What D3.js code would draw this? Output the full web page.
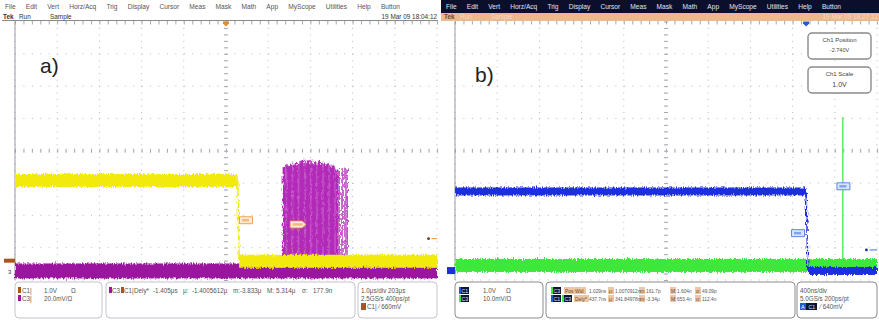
<!DOCTYPE html>
<html>
<head>
<meta charset="utf-8">
<script src="https://cdn.jsdelivr.net/npm/d3@7"></script>
<style>
html, body { margin: 0; padding: 0; background: #fff; }
svg { display: block; font-family: "Liberation Sans", Arial, sans-serif; }
</style>
</head>
<body>
<svg id="scope" width="879" height="320"></svg>
<script>
/* ---- data ---- */
const menuItems = ['File', 'Edit', 'Vert', 'Horz/Acq', 'Trig', 'Display', 'Cursor', 'Meas', 'Mask', 'Math', 'App', 'MyScope', 'Utilities', 'Help', 'Button'];
const statusItems = ['Tek', 'Run', 'Sample'];
const dates = ['19 Mar 09 18:04:12', '19 Mar 09 18:27:12'];
const panelLabels = ['a)', 'b)'];

// a) 1.0us/div, levels in vertical divisions
const c1TimesA = [-5, 0.28, 0.31, 5];
const c1LevelsA = [-0.92, -0.92, -3.42, -3.42];
const c3TimesA = [-5, 5];
const c3LevelsA = [-3.72, -3.72];
const burstTopsA = [-0.50, -0.45, -0.42, -0.48, -0.44, -0.40, -0.46, -0.43, -0.38, -0.45, -0.41, -0.35,
                    -0.30, -0.44, -0.25, -0.40, -0.33, -0.43, -0.28, -0.38, -0.42, -0.36, -0.44, -0.31,
                    -0.40, -0.45, -0.37, -0.42, -0.47, -0.39, -0.44, -0.50, -0.46, -0.52, -0.55, -0.60];
const burstSpanA = [1.37, 2.63];
const burstTailA = [2.68, 2.75, 2.82, 2.87];
const burstBaseA = -3.26;

// b) 400ns/div (time in us)
const c1TimesB = [-2, 1.328, 1.345, 2];
const c1LevelsB = [-1.26, -1.26, -3.72, -3.72];
const c3TimesB = [-2, 2];
const c3LevelsB = [-3.55, -3.55];
const spikeTimeB = 1.676;
const spikeTopB = 1.04;

// readouts
const chanA = [['C1|', '1.0V', 'Ω'], ['C3|', '20.0mV/Ω', '']];
const measA = ['Dely*', '-1.405μs', 'μ:', '-1.4005612μ', 'm:-3.833μ', 'M:', '5.314μ', 'σ:', '177.9n'];
const horizA = ['1.0μs/div  203μs', '2.5GS/s    400ps/pt', 'C1| ⁄ 660mV'];
const chanB = [['C1', '1.0V', 'Ω'], ['C3', '10.0mV/Ω', '']];
const measNamesB = ['Pos Wid', 'Dely*'];
const measValsB = [['1.029ns', '1.0070912n', '161.7p', '1.604n', '49.09p'],
                   ['437.7ns', '341.84978n', '-3.34μ', '653.4n', '112.4n']];
const statKeys = ['μ:', 'm:', 'M:', 'σ:'];
const horizB = ['400ns/div', '5.0GS/s    200ps/pt', '⁄ 640mV'];
const infoBoxesB = [['Ch1 Position', '-2.740V'], ['Ch1 Scale', '1.0V']];

/* ---- setup ---- */
const svg = d3.select('#scope');
const defs = svg.append('defs');

const noise = defs.append('filter').attr('id', 'noise')
    .attr('filterUnits', 'userSpaceOnUse').attr('x', 0).attr('y', 0).attr('width', 879).attr('height', 320);
noise.append('feTurbulence').attr('type', 'fractalNoise').attr('baseFrequency', '0.9 0.25')
    .attr('numOctaves', 2).attr('seed', 4).attr('result', 't');
noise.append('feDisplacementMap').attr('in', 'SourceGraphic').attr('in2', 't')
    .attr('scale', 5).attr('xChannelSelector', 'R').attr('yChannelSelector', 'G');

const gridTop = 21.5, gridBottom = 280;
const panels = [
    { off: 0,   gx0: 15,  gx1: 437, dark: false, x: d3.scaleLinear().domain([-5, 5]).range([15, 437]) },
    { off: 441, gx0: 455, gx1: 877, dark: true,  x: d3.scaleLinear().domain([-2, 2]).range([455, 877]) }
];
const yDiv = d3.scaleLinear().domain([-4, 4]).range([gridBottom, gridTop]);

panels.forEach((p, i) => {
    const g = svg.append('g').attr('class', 'panel-' + i);

    // menu + status bars
    g.append('rect').attr('x', p.off).attr('y', 0).attr('width', 438).attr('height', 13)
        .style('fill', p.dark ? '#0b0f2c' : '#fff');
    g.append('rect').attr('x', p.off).attr('y', 13).attr('width', 438).attr('height', 8)
        .style('fill', p.dark ? '#ecb88c' : '#fff');
    if (!p.dark) {
        g.append('line').attr('x1', p.off + 2).attr('x2', p.off + 438).attr('y1', 20.5).attr('y2', 20.5)
            .style('stroke', '#8a8a8a').style('stroke-width', 1);
    }
    const menu = g.append('g').style('font-size', '6.6px').style('fill', p.dark ? '#e4e4ee' : '#555');
    const items = menu.selectAll('text').data(menuItems).enter().append('text')
        .attr('y', 9).text(d => d);
    const widths = [];
    items.each(function () { widths.push(this.getComputedTextLength()); });
    const gap = (395 - d3.sum(widths)) / (menuItems.length - 1);
    let cx = p.off + 5;
    items.attr('x', (d, k) => { const v = cx; cx += widths[k] + gap; return v; });

    const st = g.append('g').style('font-size', '6.4px');
    st.selectAll('text').data(statusItems).enter().append('text')
        .attr('x', (d, k) => p.off + [3, 19, 50][k]).attr('y', 19)
        .style('font-weight', (d, k) => k === 0 ? 'bold' : 'normal')
        .style('fill', (d, k) => p.dark ? (k === 0 ? '#6a4a30' : '#f6dcc6') : '#333')
        .text(d => d);
    st.append('text').attr('x', p.off + 437).attr('y', 19).attr('text-anchor', 'end')
        .style('fill', p.dark ? '#f6dcc6' : '#333').text(dates[i]);

    // graticule
    const grid = g.append('g').attr('class', 'grid');
    const xs = d3.range(-5, 5.001, 1).map(v => p.gx0 + (v + 5) * (p.gx1 - p.gx0) / 10);
    const ys = d3.range(-4, 4.001, 1).map(v => yDiv(v));
    const subX = (p.gx1 - p.gx0) / 50, subY = (gridBottom - gridTop) / 40;
    grid.selectAll('.vl').data(xs).enter().append('line').attr('class', 'vl')
        .attr('x1', d => d).attr('x2', d => d).attr('y1', gridTop).attr('y2', gridBottom)
        .style('stroke', '#b8b8c0').style('stroke-width', 1)
        .style('stroke-dasharray', '1,' + (subY - 1).toFixed(2));
    grid.selectAll('.hl').data(ys).enter().append('line').attr('class', 'hl')
        .attr('y1', d => d).attr('y2', d => d).attr('x1', p.gx0).attr('x2', p.gx1)
        .style('stroke', '#b8b8c0').style('stroke-width', 1)
        .style('stroke-dasharray', '1,' + (subX - 1).toFixed(2));
    // center cross and edges with minor ticks
    const xTickScale = d3.scaleLinear().domain([-5, 5]).range([p.gx0, p.gx1]);
    const tickX = d3.range(-5, 5.001, 0.2);
    const tickY = d3.range(-4, 4.001, 0.2);
    grid.append('g').attr('transform', `translate(0,${yDiv(0) - 2})`)
        .call(d3.axisBottom(xTickScale).tickValues(tickX).tickSize(4).tickFormat(''))
        .call(a => a.select('.domain').remove())
        .selectAll('line').style('stroke', '#a8a8b0');
    grid.append('g').attr('transform', `translate(0,${gridTop})`)
        .call(d3.axisBottom(xTickScale).tickValues(tickX).tickSize(3).tickFormat(''))
        .call(a => a.select('.domain').remove())
        .selectAll('line').style('stroke', '#a8a8b0');
    grid.append('g').attr('transform', `translate(${xTickScale(0) + 2},0)`)
        .call(d3.axisLeft(yDiv).tickValues(tickY).tickSize(4).tickFormat(''))
        .call(a => a.select('.domain').remove())
        .selectAll('line').style('stroke', '#a8a8b0');
    grid.append('line').attr('x1', p.gx0).attr('x2', p.gx0).attr('y1', gridTop).attr('y2', gridBottom)
        .style('stroke', '#9a9aa8').style('stroke-width', 1);

    // panel label
    g.append('text').attr('x', i === 0 ? 40 : 475).attr('y', i === 0 ? 73 : 82)
        .style('font-size', '21px').style('fill', '#222').text(panelLabels[i]);
});

/* ---- traces ---- */
function drawTrace(g, x, times, levels, color, thick) {
    for (let k = 0; k < times.length - 1; k++) {
        if (levels[k] === levels[k + 1]) {
            g.append('rect')
                .attr('x', x(times[k])).attr('width', x(times[k + 1]) - x(times[k]))
                .attr('y', yDiv(levels[k]) - thick / 2).attr('height', thick)
                .style('fill', color);
        } else {
            g.append('line')
                .attr('x1', x(times[k])).attr('x2', x(times[k + 1]))
                .attr('y1', yDiv(levels[k])).attr('y2', yDiv(levels[k + 1]))
                .style('stroke', color).style('stroke-width', 1.5);
        }
    }
}

// a)
const pa = panels[0];
const ta = svg.append('g').attr('class', 'traces-a').attr('filter', 'url(#noise)');
drawTrace(ta, pa.x, c3TimesA, c3LevelsA, '#9b189e', 15);
// burst
const burstX = d3.scalePoint().domain(d3.range(burstTopsA.length)).range(burstSpanA.map(pa.x));
ta.append('g').selectAll('line').data(burstTopsA).enter().append('line')
    .attr('x1', (d, k) => burstX(k)).attr('x2', (d, k) => burstX(k))
    .attr('y1', d => yDiv(d)).attr('y2', yDiv(burstBaseA))
    .style('stroke', (d, k) => k % 4 === 2 ? '#c454c8' : '#b22ab8').style('stroke-width', 2.4);
ta.append('g').selectAll('line').data(burstTailA).enter().append('line')
    .attr('x1', d => pa.x(d)).attr('x2', d => pa.x(d))
    .attr('y1', yDiv(-0.55)).attr('y2', yDiv(burstBaseA))
    .style('stroke', '#b22ab8').style('stroke-width', 1.4);
drawTrace(ta, pa.x, c1TimesA, c1LevelsA, '#f2ea10', 13);

// b)
const pb = panels[1];
const tb = svg.append('g').attr('class', 'traces-b').attr('filter', 'url(#noise)');
drawTrace(tb, pb.x, c3TimesB, c3LevelsB, '#3ee83a', 13);
drawTrace(tb, pb.x, c1TimesB, c1LevelsB, '#1c2ee0', 8);
svg.append('line').attr('x1', pb.x(spikeTimeB)).attr('x2', pb.x(spikeTimeB))
    .attr('y1', yDiv(spikeTopB)).attr('y2', yDiv(c3LevelsB[0]))
    .style('stroke', '#3ee83a').style('stroke-width', 1.2);

/* ---- markers ---- */
function trigMarker(xp, color) {
    svg.append('path').attr('d', `M${xp - 3},${gridTop}h6v2l-3,3l-3,-3z`).style('fill', color);
}
trigMarker(pa.x(0), '#e68a2e');
trigMarker(pb.x(1.328), '#2a56d8');

function tag(xp, yp, w, stroke, fill, arrow) {
    const d = arrow ? `M${xp},${yp - 3.5}h${w - 4}l4,3.5l-4,3.5h${-(w - 4)}z`
                    : `M${xp},${yp - 3.5}h${w}v7h${-w}z`;
    svg.append('path').attr('d', d).style('fill', fill).style('stroke', stroke).style('stroke-width', 0.8);
    svg.append('rect').attr('x', xp + 2.5).attr('y', yp - 1.2).attr('width', w - 6).attr('height', 2.4)
        .style('fill', stroke).style('opacity', 0.55);
}
tag(pa.x(0.32), yDiv(-2.15), 13, '#e8903a', '#fde9d4', false);
tag(pa.x(1.52), yDiv(-2.28), 16, '#e8903a', '#fde9d4', true);
tag(pb.x(1.19), yDiv(-2.55), 13, '#3a6ee0', '#d6e4fc', false);
tag(pb.x(1.62), yDiv(-1.1), 13, '#3a6ee0', '#d6e4fc', false);

// trigger level dots
svg.append('circle').attr('cx', pa.x(4.8)).attr('cy', yDiv(-2.72)).attr('r', 1.4).style('fill', '#6a3a10');
svg.append('line').attr('x1', pa.x(4.87)).attr('x2', pa.x(5)).attr('y1', yDiv(-2.72)).attr('y2', yDiv(-2.72))
    .style('stroke', '#e8903a').style('stroke-width', 1);
svg.append('circle').attr('cx', pb.x(1.9)).attr('cy', yDiv(-3.07)).attr('r', 1.4).style('fill', '#1c2ea0');
svg.append('line').attr('x1', pb.x(1.93)).attr('x2', pb.x(2)).attr('y1', yDiv(-3.07)).attr('y2', yDiv(-3.07))
    .style('stroke', '#3a6ee0').style('stroke-width', 1);

// ground markers
svg.append('rect').attr('x', 4).attr('y', yDiv(-3.34)).attr('width', 11).attr('height', 4).style('fill', '#a8561c');
svg.append('text').attr('x', 8).attr('y', yDiv(-3.8)).style('font-size', '6px').style('fill', '#5a1060').text('3');
svg.append('rect').attr('x', 447).attr('y', yDiv(-3.6)).attr('width', 8).attr('height', 7).style('fill', '#1c2ee0');

// Ch1 info boxes (b)
infoBoxesB.forEach((b, k) => {
    const y0 = 33 + k * 34;
    svg.append('rect').attr('x', 808).attr('y', y0).attr('width', 63).attr('height', 26).attr('rx', 4)
        .style('fill', '#fff').style('stroke', '#8a8a8a').style('stroke-width', 1.4);
    svg.append('text').attr('x', 839.5).attr('y', y0 + 9).attr('text-anchor', 'middle')
        .style('font-size', '6px').style('fill', '#444').text(b[0]);
    svg.append('text').attr('x', 839.5).attr('y', y0 + (k === 0 ? 19 : 20)).attr('text-anchor', 'middle')
        .style('font-size', k === 0 ? '5.5px' : '7px').style('fill', '#444').text(b[1]);
});

/* ---- readout boxes ---- */
function box(x, w, stroke) {
    svg.append('rect').attr('x', x).attr('y', 282).attr('width', w).attr('height', 36).attr('rx', 4)
        .style('fill', '#fff').style('stroke', stroke).style('stroke-width', 1);
}
function txt(x, y, s, fill, size) {
    return svg.append('text').attr('x', x).attr('y', y).style('font-size', (size || 6.3) + 'px')
        .style('fill', fill || '#555').text(s);
}
const rowY = [293, 301, 309];

// a)
box(15, 87, '#c4c4cc');
box(106, 249, '#c4c4cc');
box(358, 79, '#c4c4cc');
chanA.forEach((c, k) => {
    svg.append('rect').attr('x', 18).attr('y', rowY[k] - 6).attr('width', 3).attr('height', 6)
        .style('fill', k === 0 ? '#a8561c' : '#9b189e');
    txt(22, rowY[k], c[0]);
    txt(44, rowY[k], c[1]);
    txt(71, rowY[k], c[2]);
});
svg.append('rect').attr('x', 109).attr('y', 287).attr('width', 3).attr('height', 6).style('fill', '#9b189e');
txt(112, 293, 'C3');
svg.append('rect').attr('x', 121).attr('y', 287).attr('width', 3).attr('height', 6).style('fill', '#a8561c');
txt(124, 293, 'C1|');
const measAX = [134, 153, 183, 192, 233, 267, 276, 302, 313];
measA.forEach((s, k) => txt(measAX[k], 293, s));
txt(361, 293, horizA[0]);
txt(361, 301, horizA[1]);
svg.append('rect').attr('x', 361).attr('y', 303).attr('width', 5).attr('height', 7).style('fill', '#a8561c');
txt(367, 309, horizA[2]);

// b)
box(455, 88, '#8c8c8c');
box(546, 249, '#8c8c8c');
box(797, 80, '#8c8c8c');
function chip(x, y, w, s, edge) {
    svg.append('rect').attr('x', x).attr('y', y - 6).attr('width', w).attr('height', 7).style('fill', '#0e1436');
    if (edge) svg.append('rect').attr('x', x).attr('y', y - 6).attr('width', 2).attr('height', 7).style('fill', edge);
    txt(x + 2.5, y, s, '#dfe4ff', 5.2);
}
function tan(x, y, w, s) {
    svg.append('rect').attr('x', x).attr('y', y - 6).attr('width', w).attr('height', 7).style('fill', '#eec6a2');
    txt(x + 1, y, s, '#6a4a30', 5);
}
chanB.forEach((c, k) => {
    chip(459, rowY[k], 10, c[0], k === 0 ? '#2a56d8' : '#3ee83a');
    txt(483, rowY[k], c[1]);
    txt(506, rowY[k], c[2]);
});
const statX = [608, 639, 670, 695];
const valX = [589, 615, 646, 677, 702];
measNamesB.forEach((m, k) => {
    if (k === 0) {
        chip(551, rowY[k], 10, 'C3', '#3ee83a');
    } else {
        chip(551, rowY[k], 10, 'C1', '#2a56d8');
        chip(562, rowY[k], 10, 'C3', '#3ee83a');
    }
    tan(k === 0 ? 564 : 574, rowY[k], k === 0 ? 22 : 15, m);
    statKeys.forEach((s, j) => tan(statX[j], rowY[k], 6, s));
    measValsB[k].forEach((v, j) => txt(valX[j], rowY[k], v, '#555', 4.8));
});
txt(800, 293, horizB[0]);
txt(800, 301, horizB[1]);
svg.append('rect').attr('x', 800).attr('y', 303).attr('width', 6).attr('height', 7).style('fill', '#2a56d8');
txt(801, 309, 'A', '#fff', 5.5);
chip(806, 309, 11, 'C1', null);
txt(820, 309, horizB[2]);
</script>
</body>
</html>
